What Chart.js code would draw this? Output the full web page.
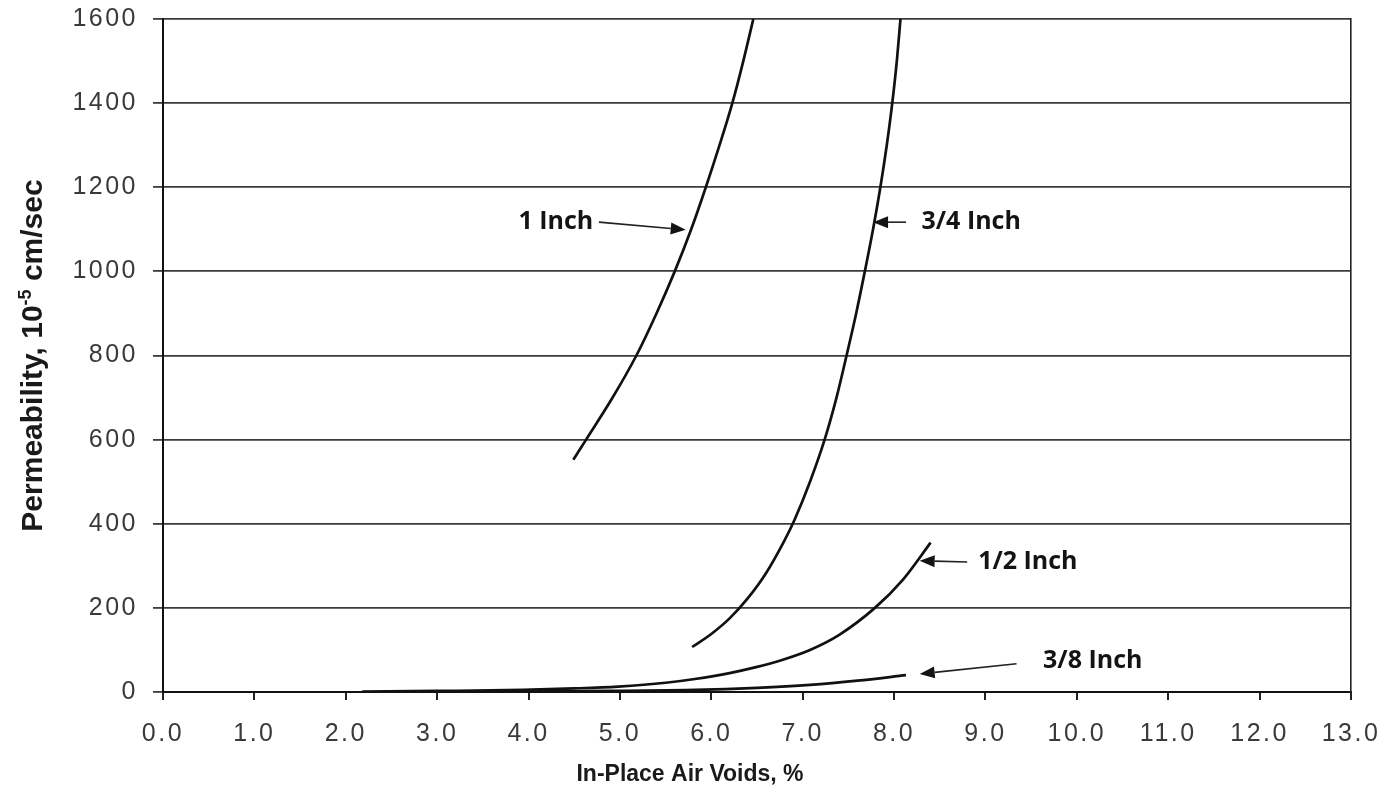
<!DOCTYPE html>
<html>
<head>
<meta charset="utf-8">
<script src="https://cdn.jsdelivr.net/npm/chart.js@4.4.1/dist/chart.umd.min.js"></script>
<style>
html,body{margin:0;padding:0;background:#ffffff;}
#wrap{width:1385px;height:799px;position:relative;}
</style>
</head>
<body>
<div id="wrap"><canvas id="c" width="1385" height="799"></canvas></div>
<script>
// ---------- data ----------
const seriesNames = ['1 Inch', '3/4 Inch', '1/2 Inch', '3/8 Inch'];

const oneInchVoids = [4.49, 4.63, 4.92, 5.18, 5.40, 5.60, 5.78, 5.94, 6.09, 6.23, 6.35, 6.46];
const oneInchPerm  = [552, 600, 700, 800, 900, 1000, 1100, 1200, 1300, 1400, 1500, 1600];

const threeQuarterVoids = [5.79, 6.0, 6.2, 6.4, 6.6, 6.8, 6.91, 7.08, 7.24, 7.37, 7.48, 7.585, 7.68, 7.77, 7.85, 7.92, 7.98, 8.03, 8.07];
const threeQuarterPerm  = [107, 138, 175, 223, 283, 360, 409, 500, 600, 700, 800, 900, 1000, 1100, 1200, 1300, 1400, 1500, 1600];

const halfInchVoids = [2.18, 3.0, 3.94, 4.5, 4.98, 5.5, 5.82, 6.2, 6.49, 6.8, 7.08, 7.4, 7.79, 8.1, 8.4];
const halfInchPerm  = [1, 2.5, 5, 8.5, 13, 22, 31, 45, 59, 78, 100, 136, 200, 268, 355];

const threeEighthVoids = [2.7, 4.0, 4.57, 5.0, 5.82, 6.5, 7.08, 7.6, 8.13];
const threeEighthPerm  = [0.5, 1.5, 2, 3, 5, 10, 17, 27, 40];

const xTickLabels = ['0.0','1.0','2.0','3.0','4.0','5.0','6.0','7.0','8.0','9.0','10.0','11.0','12.0','13.0'];
const yTickValues = [0, 200, 400, 600, 800, 1000, 1200, 1400, 1600];

const xTitle = 'In-Place Air Voids, %';
const yTitleMain = 'Permeability, 10';
const yTitleSup = '-5';
const yTitleEnd = ' cm/sec';

// annotation labels (data coordinates)
const labelX = [3.89, 8.30, 8.92, 9.63];
const labelY = [1118, 1117, 310, 74];
const arrowFromX = [4.77, 8.13, 8.80, 9.34];
const arrowFromY = [1117, 1117, 309, 67];
const arrowToX = [5.72, 7.77, 8.28, 8.28];
const arrowToY = [1099, 1117, 312, 43];

// ---------- helpers ----------
function pts(xs, ys) { return xs.map((x, i) => ({x: x, y: ys[i]})); }

const seriesData = [
  pts(oneInchVoids, oneInchPerm),
  pts(threeQuarterVoids, threeQuarterPerm),
  pts(halfInchVoids, halfInchPerm),
  pts(threeEighthVoids, threeEighthPerm)
];

const datasets = seriesData.map((d, i) => ({
  label: seriesNames[i],
  data: d,
  borderColor: '#111111',
  borderWidth: 2.7,
  pointRadius: 0,
  fill: false,
  cubicInterpolationMode: 'monotone',
  yAxisID: 'y'
}));

function drawArrow(ctx, x1, y1, x2, y2) {
  const ang = Math.atan2(y2 - y1, x2 - x1);
  const hl = 15, hw = 6;
  const bx = x2 - hl * Math.cos(ang), by = y2 - hl * Math.sin(ang);
  ctx.beginPath();
  ctx.moveTo(x1, y1);
  ctx.lineTo(bx, by);
  ctx.stroke();
  ctx.beginPath();
  ctx.moveTo(x2, y2);
  ctx.lineTo(bx + hw * Math.sin(ang), by - hw * Math.cos(ang));
  ctx.lineTo(bx - hw * Math.sin(ang), by + hw * Math.cos(ang));
  ctx.closePath();
  ctx.fill();
}

function zeroPad(s) { s.paddingTop = 0; s.paddingBottom = 0; s.paddingLeft = 0; s.paddingRight = 0; }

const decorPlugin = {
  id: 'decor',
  afterDatasetsDraw(chart) {
    const ctx = chart.ctx, xs = chart.scales.x, ys = chart.scales.y;
    ctx.save();
    ctx.fillStyle = '#141414';
    ctx.strokeStyle = '#222222';
    ctx.lineWidth = 1.6;
    ctx.font = '700 25px "Open Sans"';
    ctx.textAlign = 'left';
    ctx.textBaseline = 'middle';
    for (let i = 0; i < seriesNames.length; i++) {
      ctx.fillText(seriesNames[i], xs.getPixelForValue(labelX[i]), ys.getPixelForValue(labelY[i]));
      drawArrow(ctx,
        xs.getPixelForValue(arrowFromX[i]), ys.getPixelForValue(arrowFromY[i]),
        xs.getPixelForValue(arrowToX[i]), ys.getPixelForValue(arrowToY[i]));
    }
    ctx.restore();
    // tick labels are drawn after this hook (ticks.z = 1): give them the wide spacing
    ctx.letterSpacing = '2.5px';
  },
  afterDraw(chart) {
    const ctx = chart.ctx;
    ctx.letterSpacing = '0px';
    ctx.save();
    ctx.fillStyle = '#1a1a1a';
    // x title
    ctx.font = 'bold 23px "Liberation Sans", Arial, sans-serif';
    ctx.textAlign = 'center';
    ctx.textBaseline = 'middle';
    ctx.fillText(xTitle, 690, 775);
    // y title with superscript
    const f1 = 'bold 30px "Liberation Sans", Arial, sans-serif';
    const f2 = 'bold 18px "Liberation Sans", Arial, sans-serif';
    ctx.font = f1;
    const w1 = ctx.measureText(yTitleMain).width;
    const w3 = ctx.measureText(yTitleEnd).width;
    ctx.font = f2;
    const w2 = ctx.measureText(yTitleSup).width;
    const total = w1 + w2 + w3;
    const cy = (chart.chartArea.top + chart.chartArea.bottom) / 2;
    ctx.translate(42, cy);
    ctx.rotate(-Math.PI / 2);
    ctx.textAlign = 'left';
    ctx.textBaseline = 'alphabetic';
    let x0 = -total / 2;
    ctx.font = f1; ctx.fillText(yTitleMain, x0, 0); x0 += w1;
    ctx.font = f2; ctx.fillText(yTitleSup, x0, -11); x0 += w2;
    ctx.font = f1; ctx.fillText(yTitleEnd, x0, 0);
    ctx.restore();
  }
};

new Chart(document.getElementById('c'), {
  type: 'line',
  data: { datasets: datasets },
  options: {
    responsive: false,
    devicePixelRatio: 1,
    animation: false,
    layout: { padding: { left: 0, right: 34, top: 19, bottom: 0 } },
    plugins: { legend: { display: false }, tooltip: { enabled: false }, title: { display: false } },
    scales: {
      x: {
        type: 'linear',
        position: 'bottom',
        min: 0, max: 13,
        afterFit: (s) => { s.height = 107; zeroPad(s); },
        afterBuildTicks: (s) => { s.ticks = xTickLabels.map((t, i) => ({value: i})); },
        ticks: {
          z: 1,
          autoSkip: false,
          maxRotation: 0,
          padding: 19,
          color: '#3a3a3a',
          font: { family: '"Liberation Sans", Arial, sans-serif', size: 25 },
          callback: (v, i) => xTickLabels[i]
        },
        grid: { drawOnChartArea: false, drawTicks: true, tickLength: 8, color: '#222222', lineWidth: 2 },
        border: { display: true, color: '#111111', width: 2 }
      },
      y: {
        type: 'linear',
        position: 'left',
        min: 0, max: 1600,
        afterFit: (s) => { s.width = 163; zeroPad(s); },
        afterBuildTicks: (s) => { s.ticks = yTickValues.map(v => ({value: v})); },
        ticks: {
          z: 1,
          padding: 15,
          color: '#3a3a3a',
          font: { family: '"Liberation Sans", Arial, sans-serif', size: 25 },
          callback: (v) => String(v)
        },
        grid: { drawOnChartArea: true, drawTicks: true, tickLength: 10, color: '#3c3c3c', lineWidth: 1.8 },
        border: { display: true, color: '#111111', width: 2 }
      },
      y2: {
        type: 'linear',
        position: 'right',
        min: 0, max: 1600,
        afterFit: (s) => { s.width = 0; zeroPad(s); },
        ticks: { display: false },
        grid: { display: false, drawTicks: false },
        border: { display: true, color: '#222222', width: 1.6 }
      }
    }
  },
  plugins: [decorPlugin]
});
</script>
</body>
</html>
